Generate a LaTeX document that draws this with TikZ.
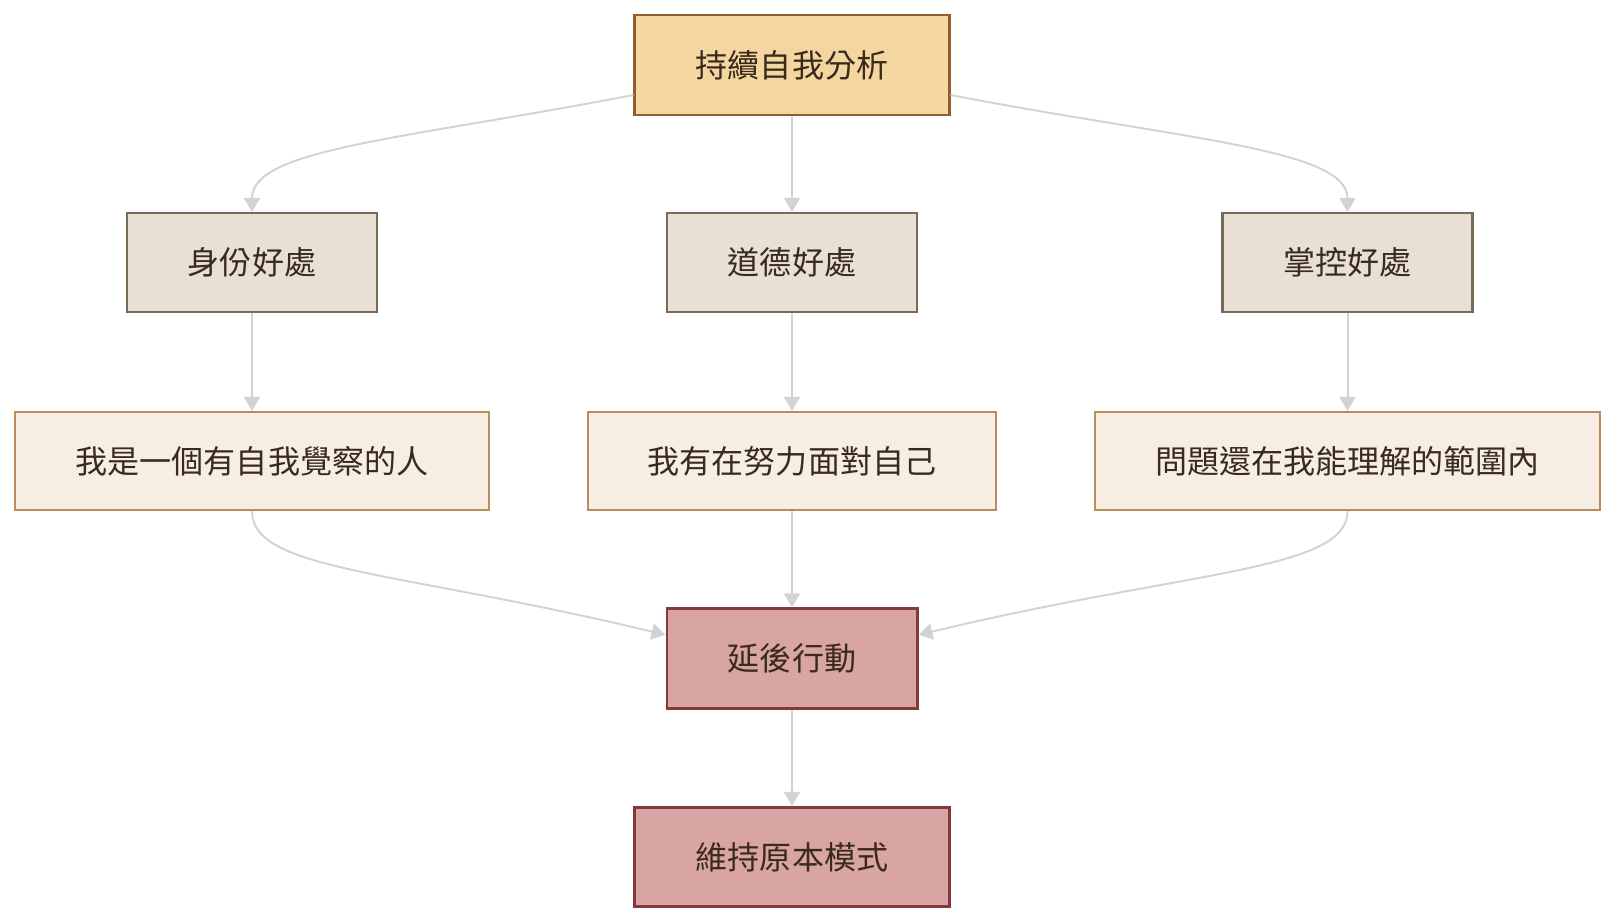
\documentclass[tikz,border=0pt]{standalone}
\usepackage{fontspec}
\newfontfamily\cjk{Noto Sans CJK TC}
\usepackage{xcolor}
\usetikzlibrary{arrows.meta,calc}

\definecolor{txt}{HTML}{3A2A1E}
\definecolor{lnk}{HTML}{D3D3D3}
\definecolor{topfill}{HTML}{F3D6A0}
\definecolor{topdraw}{HTML}{8E5E2E}
\definecolor{gainfill}{HTML}{E8E0D5}
\definecolor{gaindraw}{HTML}{7A6A58}
\definecolor{thoughtfill}{HTML}{F6EEE3}
\definecolor{thoughtdraw}{HTML}{B98C5A}
\definecolor{endfill}{HTML}{D9A4A4}
\definecolor{enddraw}{HTML}{833A3D}

\begin{document}
\begin{tikzpicture}[x=0.025cm,y=-0.025cm,
   >={Triangle[length=0.35cm,width=0.4cm]},
   font=\cjk\fontsize{22.8pt}{27pt}\selectfont,text=txt,
   bx/.style={rectangle,draw,inner sep=0pt},
   rootbx/.style={bx,fill=topfill,draw=topdraw,line width=2.1pt,minimum width=7.85cm,minimum height=2.5cm},
   gainbx/.style={bx,fill=gainfill,draw=gaindraw,line width=1.5pt,minimum width=6.25cm,minimum height=2.475cm},
   thoughtbx/.style={bx,fill=thoughtfill,draw=thoughtdraw,line width=1.5pt,minimum height=2.45cm},
   endbx/.style={bx,fill=endfill,draw=enddraw,line width=2.1pt,minimum height=2.48cm},
   lk/.style={->,draw=lnk,line width=1.4pt}]
  \useasboundingbox (0,0) rectangle (1616,922);

  \node[rootbx] (root) at (792,65) {持續自我分析};

  \node[gainbx] (idn) at (252,262.5)  {身份好處};
  \node[gainbx] (mor) at (792,262.5)  {道德好處};
  \node[gainbx] (ctl) at (1347.5,262.5) {掌控好處};

  \node[thoughtbx,minimum width=11.825cm] (tidn) at (252,461) {我是一個有自我覺察的人};
  \node[thoughtbx,minimum width=10.2cm]   (tmor) at (792,461)   {我有在努力面對自己};
  \node[thoughtbx,minimum width=12.625cm] (tctl) at (1347.5,461) {問題還在我能理解的範圍內};

  \node[endbx,minimum width=6.25cm] (act)  at (792,658.5) {延後行動};
  \node[endbx,minimum width=7.85cm] (keep) at (792,857)   {維持原本模式};

  % top fan out
  \draw[lk] ([yshift=-0.75cm]root.west) .. controls +(-235,45) and +(0,-63) .. (idn.north);
  \draw[lk] (root) -- (mor);
  \draw[lk] ([yshift=-0.75cm]root.east) .. controls +(235,45) and +(0,-63) .. (ctl.north);

  \draw[lk] (idn) -- (tidn);
  \draw[lk] (mor) -- (tmor);
  \draw[lk] (ctl) -- (tctl);

  % merge into delay
  \draw[lk] (tidn.south) .. controls +(0,60) and +(-270,-65) .. ([yshift=0.59cm]act.west);
  \draw[lk] (tmor) -- (act);
  \draw[lk] (tctl.south) .. controls +(0,60) and +(270,-65) .. ([yshift=0.59cm]act.east);

  \draw[lk] (act) -- (keep);
\end{tikzpicture}
\end{document}
